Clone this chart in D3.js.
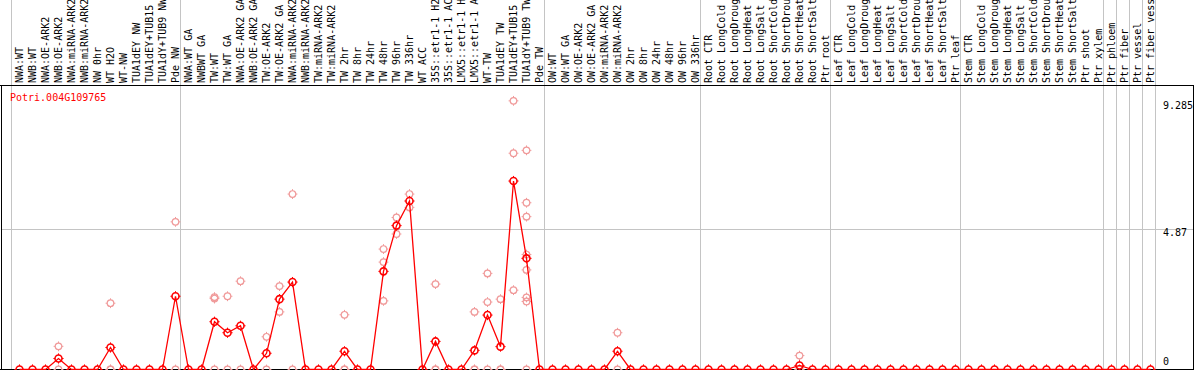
<!DOCTYPE html>
<html>
<head>
<meta charset="utf-8">
<script src="https://cdn.jsdelivr.net/npm/d3@7"></script>
<style>
  html, body { margin: 0; padding: 0; background: #fff; }
  svg { display: block; }
  text { font-family: "DejaVu Sans Mono", monospace; font-size: 10px; }
</style>
</head>
<body>
<svg id="chart" width="1194" height="370"></svg>
<script>
// ---------- data ----------
const geneName = "Potri.004G109765";

const labels = [
  "NWA:WT", "NWB:WT", "NWA:OE-ARK2", "NWB:OE-ARK2", "NWA:miRNA-ARK2", "NWB:miRNA-ARK2",
  "NW 0hr", "WT H2O", "WT-NW", "TUA1dEY NW", "TUA1dEY+TUB15", "TUA1dY+TUB9 NW", "Pde NW",
  "NWA:WT GA", "NWBWT GA", "TW:WT", "TW:WT GA", "NWA:OE-ARK2 GA", "NWB:OE-ARK2 GA",
  "TW:OE-ARK2", "TW:OE-ARK2 GA", "NWA:miRNA-ARK2", "NWB:miRNA-ARK2", "TW:miRNA-ARK2",
  "TW:miRNA-ARK2", "TW 2hr", "TW 8hr", "TW 24hr", "TW 48hr", "TW 96hr", "TW 336hr",
  "WT ACC", "35S::etr1-1 H2O", "35S::etr1-1 ACC", "LMX5::etr1-1 H2O", "LMX5::etr1-1 ACC",
  "WT-TW", "TUA1dEY TW", "TUA1dEY+TUB15 TW", "TUA1dY+TUB9 TW", "Pde TW",
  "OW:WT", "OW:WT GA", "OW:OE-ARK2", "OW:OE-ARK2 GA", "OW:miRNA-ARK2", "OW:miRNA-ARK2",
  "OW 2hr", "OW 8hr", "OW 24hr", "OW 48hr", "OW 96hr", "OW 336hr",
  "Root CTR", "Root LongCold", "Root LongDrought", "Root LongHeat", "Root LongSalt",
  "Root ShortCold", "Root ShortDrought", "Root ShortHeat", "Root ShortSalt", "Ptr root",
  "Leaf CTR", "Leaf LongCold", "Leaf LongDrought", "Leaf LongHeat", "Leaf LongSalt",
  "Leaf ShortCold", "Leaf ShortDrought", "Leaf ShortHeat", "Leaf ShortSalt", "Ptr leaf",
  "Stem CTR", "Stem LongCold", "Stem LongDrought", "Stem LongHeat", "Stem LongSalt",
  "Stem ShortCold", "Stem ShortDrought", "Stem ShortHeat", "Stem ShortSalt", "Ptr shoot",
  "Ptr xylem", "Ptr phloem", "Ptr fiber", "Ptr vessel", "Ptr fiber vessel"
];

// mean expression per sample
const means = [
  0, 0, 0, 0.38, 0, 0, 0, 0.76, 0, 0, 0, 0, 2.53,
  0, 0, 1.65, 1.27, 1.51, 0, 0.56, 2.43, 3.02, 0, 0,
  0, 0.63, 0, 0, 3.39, 4.97, 5.82,
  0, 0.97, 0, 0, 0.66, 1.88, 0.79, 6.51, 3.84, 0,
  0, 0, 0, 0, 0, 0.63, 0, 0, 0, 0, 0, 0,
  0, 0, 0, 0, 0, 0, 0, 0.14, 0, 0,
  0, 0, 0, 0, 0, 0, 0, 0, 0, 0,
  0, 0, 0, 0, 0, 0, 0, 0, 0, 0,
  0, 0, 0, 0, 0
];

// replicate values per sample (empty where all replicates are zero)
const replicates = [
  [], [], [], [0.80, 0], [], [], [], [2.29, 0, 0], [], [], [], [], [5.10, 0],
  [], [], [2.50, 2.45, 0], [2.53, 0], [3.05, 0], [], [1.13, 0], [2.88, 1.99], [6.06, 0], [], [],
  [], [1.89, 0, 0], [], [], [4.16, 3.71, 2.37], [5.25, 4.68], [6.06, 5.60],
  [], [2.95, 0, 0], [], [], [1.99, 0, 0], [3.32, 2.33, 0], [2.43, 0, 0], [9.28, 7.47, 2.74],
  [7.57, 5.76, 5.28, 3.97, 3.44, 2.49, 2.35, 0], [],
  [], [], [], [], [], [1.27, 0], [], [], [], [], [], [],
  [], [], [], [], [], [], [], [0.48, 0, 0], [], [],
  [], [], [], [], [], [], [], [], [], [],
  [], [], [], [], [], [], [], [], [], [],
  [], [], [], [], []
];

// index of the last sample in each group (vertical separators); -1 = before first
const groupEnds = [-1, 12, 40, 52, 62, 72, 83, 84, 85, 86, 87];

const yTicks = [0, 4.87, 9.285];
const yTickLabels = ["0", "4.87", "9.285"];

// ---------- layout ----------
const W = 1194, H = 370;
const headerBottom = 85;
const svg = d3.select("#chart");

const x = d3.scaleLinear().domain([0, labels.length - 1]).range([19.5, 19.5 + 13 * (labels.length - 1)]);
const y = d3.scaleLinear().domain([0, 9.285]).range([369.5, 100.7]);

const red = "#ff0000";
const pink = "#f09a9a";
const grid = "#c4c4c4";

// vertical group separators
svg.append("g").selectAll("line").data(groupEnds).join("line")
  .attr("x1", d => Math.round(x(d) + 4.5) + 0.5)
  .attr("x2", d => Math.round(x(d) + 4.5) + 0.5)
  .attr("y1", 0).attr("y2", H)
  .attr("stroke", grid).attr("stroke-width", 1)
  .attr("shape-rendering", "crispEdges");

// horizontal grid at middle tick
svg.append("line")
  .attr("x1", 1).attr("x2", 1193)
  .attr("y1", Math.round(y(4.87)) + 0.5).attr("y2", Math.round(y(4.87)) + 0.5)
  .attr("stroke", grid).attr("stroke-width", 1)
  .attr("shape-rendering", "crispEdges");

// frame lines
const frame = svg.append("g").attr("stroke", "#000").attr("stroke-width", 1).attr("shape-rendering", "crispEdges");
frame.append("line").attr("x1", 0).attr("x2", W).attr("y1", headerBottom + 0.5).attr("y2", headerBottom + 0.5);
frame.append("line").attr("x1", 1.5).attr("x2", 1.5).attr("y1", headerBottom).attr("y2", H);
frame.append("line").attr("x1", 1193.5).attr("x2", 1193.5).attr("y1", headerBottom).attr("y2", H);
frame.append("line").attr("x1", 0).attr("x2", W).attr("y1", 369.5).attr("y2", 369.5);

// column labels (rotated)
svg.append("g").selectAll("text").data(labels).join("text")
  .attr("transform", (d, i) => `translate(${x(i) + 3.5},83) rotate(-90)`)
  .attr("text-anchor", "start")
  .attr("fill", "#000")
  .text(d => d);

// gene name
svg.append("text").attr("x", 10).attr("y", 100.5).attr("fill", red).text(geneName);

// y tick labels
const tickY = [365, 236, 109];
svg.append("g").selectAll("text").data(yTicks).join("text")
  .attr("x", 1163)
  .attr("y", (d, i) => tickY[i])
  .attr("fill", "#000")
  .text((d, i) => yTickLabels[i]);

// marker helper: circle with 4 small ticks
function marker(g, cx, cy, r, color, sw) {
  const m = g.append("g").attr("transform", `translate(${cx},${cy})`)
    .attr("fill", "none").attr("stroke", color).attr("stroke-width", sw);
  m.append("circle").attr("r", r);
  const t = r + 1.6;
  m.append("path").attr("d", `M0,${-r}V${-t}M0,${r}V${t}M${-r},0H${-t}M${r},0H${t}`)
    .attr("stroke-width", 1);
}

// replicates
const repPts = [];
replicates.forEach((arr, i) => arr.forEach(v => repPts.push([i, v])));
const repG = svg.append("g");
repPts.forEach(([i, v]) => marker(repG, x(i), y(v), 3.3, pink, 1.2));

// mean line
svg.append("path")
  .datum(means)
  .attr("fill", "none")
  .attr("stroke", red)
  .attr("stroke-width", 1.3)
  .attr("d", d3.line().x((d, i) => x(i)).y(d => y(d)));

// mean markers
const meanG = svg.append("g");
means.forEach((v, i) => marker(meanG, x(i), y(v), 3.5, red, 1.6));
</script>
</body>
</html>
